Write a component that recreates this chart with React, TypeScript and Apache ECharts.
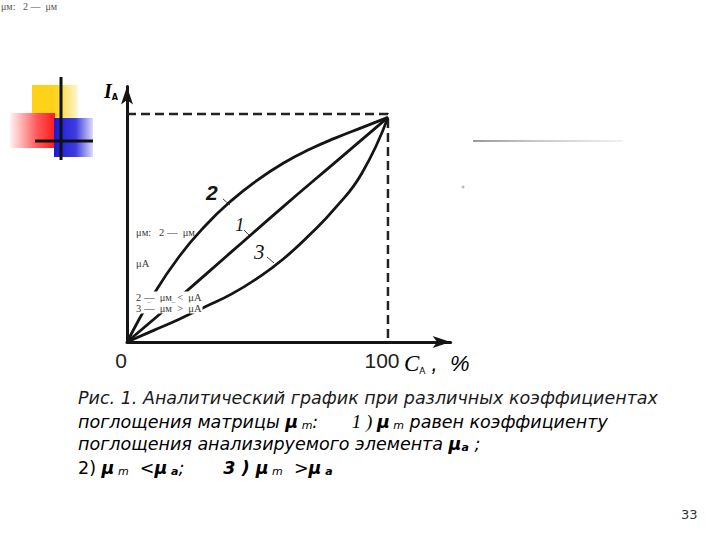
import React, { useEffect, useRef } from "react";
import * as echarts from "echarts";

// Concentration C_A (%) vs intensity I_A (relative units)
const curve1: [number, number][] = [[0, 0], [20, 19.5], [40, 39.5], [60, 59.5], [80, 79], [100, 98.5]];
const curve2: [number, number][] = [
  [0, 0], [10, 20.5], [20, 37.5], [30, 51], [40, 62], [50, 71],
  [60, 78.5], [70, 84.5], [80, 89.5], [90, 94], [100, 98.5],
];
const curve3: [number, number][] = [
  [0, 0], [10, 5], [20, 10], [30, 15.5], [40, 21], [50, 28], [60, 36.5],
  [70, 47], [80, 59], [90, 74], [100, 98.5],
];
const guide: [number, number][] = [[0, 100], [100, 100], [100, 0]];
const xTickLabels = [0, 100];

const INK = "#151515";

export default function App() {
  const ref = useRef<HTMLDivElement>(null);
  useEffect(() => {
    if (!ref.current) return;
    const chart = echarts.init(ref.current, undefined, { renderer: "svg" });
    const lineSeries = (name: string, data: [number, number][]) => ({
      name,
      type: "line",
      data,
      smooth: 0.5,
      symbol: "none",
      lineStyle: { color: INK, width: 2.8 },
      z: 2,
    });
    const CF = 17.5;
    const capBase = {
      fontFamily: "DejaVu Sans",
      fontStyle: "italic",
      fontSize: CF,
      fill: "#1a1a1a",
    };
    const capRich = {
      t: { fontFamily: "DejaVu Sans", fontStyle: "italic", fontSize: CF, color: "#1a1a1a" },
      mu: { fontFamily: "DejaVu Sans", fontStyle: "italic", fontWeight: "bold", fontSize: CF, color: "#1a1a1a" },
      sub: { fontFamily: "DejaVu Sans", fontStyle: "italic", fontSize: 11, color: "#1a1a1a", verticalAlign: "bottom" },
      subB: { fontFamily: "DejaVu Sans", fontStyle: "italic", fontWeight: "bold", fontSize: 11, color: "#1a1a1a", verticalAlign: "bottom" },
      serif: { fontFamily: "Liberation Serif", fontStyle: "italic", fontSize: 19, color: "#1a1a1a" },
      plain: { fontFamily: "DejaVu Sans", fontSize: CF, color: "#1a1a1a" },
      b3: { fontFamily: "DejaVu Sans", fontStyle: "italic", fontWeight: "bold", fontSize: CF, color: "#1a1a1a" },
    };
    const small = (text: string, x: number, y: number, bg: boolean) => ({
      type: "text",
      x,
      y,
      z: 10,
      style: {
        text,
        fontFamily: "Liberation Serif",
        fontSize: 10.5,
        fill: "#3a3a3a",
        backgroundColor: bg ? "#fff" : undefined,
        padding: bg ? [0, 1, 0, 1] : 0,
        textVerticalAlign: "middle",
      },
    });
    chart.setOption({
      animation: false,
      backgroundColor: "#fff",
      grid: { left: 127, top: 86.6, width: 323.6, height: 255.4 },
      xAxis: {
        type: "value",
        min: 0,
        max: 124,
        interval: 100,
        splitLine: { show: false },
        axisTick: { show: false },
        axisLine: {
          lineStyle: { color: INK, width: 3 },
          symbol: ["none", "arrow"],
          symbolSize: [9, 18],
        },
        axisLabel: {
          margin: 8,
          fontSize: 21,
          fontFamily: "Liberation Sans",
          color: "#222",
          padding: [0, 12, 0, 0],
          formatter: (v: number) => (xTickLabels.includes(v) ? String(v) : ""),
        },
      },
      yAxis: {
        type: "value",
        min: 0,
        max: 112,
        splitLine: { show: false },
        axisTick: { show: false },
        axisLabel: { show: false },
        axisLine: {
          lineStyle: { color: INK, width: 3 },
          symbol: ["none", "arrow"],
          symbolSize: [9, 18],
        },
      },
      series: [
        {
          name: "guide",
          type: "line",
          data: guide,
          symbol: "none",
          lineStyle: { color: "#222", width: 2.5, type: [9, 5] },
          z: 1,
        },
        lineSeries("1", curve1),
        lineSeries("2", curve2),
        lineSeries("3", curve3),
      ],
      graphic: [
        // decorative slide ornament
        {
          type: "rect",
          shape: { x: 32, y: 85, width: 46, height: 34 },
          style: {
            fill: new echarts.graphic.LinearGradient(0, 0, 1, 0, [
              { offset: 0, color: "#ffd21a" },
              { offset: 0.5, color: "#ffd21a" },
              { offset: 1, color: "#fff6d6" },
            ]),
          },
        },
        {
          type: "rect",
          shape: { x: 10, y: 113, width: 45, height: 35 },
          style: {
            fill: new echarts.graphic.LinearGradient(0, 0, 1, 0, [
              { offset: 0, color: "#fff2f2" },
              { offset: 0.6, color: "#ff5a5a" },
              { offset: 1, color: "#ff1a1a" },
            ]),
          },
        },
        {
          type: "rect",
          shape: { x: 54, y: 118, width: 39, height: 39 },
          style: {
            fill: new echarts.graphic.LinearGradient(0, 0, 1, 0, [
              { offset: 0, color: "#1a1ad6" },
              { offset: 0.55, color: "#3c3ce0" },
              { offset: 1, color: "#dcdcf8" },
            ]),
          },
        },
        { type: "line", shape: { x1: 61, y1: 77, x2: 61, y2: 160 }, style: { stroke: "#111", lineWidth: 3 } },
        { type: "line", shape: { x1: 35, y1: 141, x2: 93, y2: 141 }, style: { stroke: "#111", lineWidth: 3 } },
        // faint line to the right
        {
          type: "rect",
          shape: { x: 473, y: 140, width: 150, height: 2 },
          style: {
            fill: new echarts.graphic.LinearGradient(0, 0, 1, 0, [
              { offset: 0, color: "#9a9a9a" },
              { offset: 0.4, color: "#c6c6c6" },
              { offset: 1, color: "#f2f2f2" },
            ]),
          },
        },
        { type: "circle", shape: { cx: 463, cy: 187, r: 1.5 }, style: { fill: "#bbb" } },
        // tiny top-left text
        {
          type: "text",
          x: 1,
          y: 6,
          style: { text: "μм:   2 —  μм", fontFamily: "Liberation Serif", fontSize: 10, fill: "#555", textVerticalAlign: "middle" },
        },
        // axis names
        {
          type: "text",
          x: 104,
          y: 81,
          style: {
            text: "{i|I}{s|A}",
            rich: {
              i: { fontFamily: "Liberation Serif", fontStyle: "italic", fontWeight: "bold", fontSize: 20, color: INK },
              s: { fontFamily: "DejaVu Sans", fontWeight: "bold", fontSize: 8, color: INK, verticalAlign: "bottom" },
            },
          },
        },
        {
          type: "text",
          x: 404,
          y: 352,
          style: {
            text: "{c|C}{s|A}{t| ,  %}",
            rich: {
              c: { fontFamily: "Liberation Serif", fontStyle: "italic", fontSize: 23, color: INK },
              s: { fontFamily: "DejaVu Sans", fontSize: 9, color: INK, verticalAlign: "bottom" },
              t: { fontFamily: "Liberation Sans", fontStyle: "italic", fontSize: 22, color: INK },
            },
          },
        },
        // curve numbers with leader ticks
        {
          type: "text",
          x: 206,
          y: 182,
          style: { text: "2", fontFamily: "Liberation Sans", fontStyle: "italic", fontWeight: "bold", fontSize: 21, fill: INK },
        },
        { type: "line", shape: { x1: 223, y1: 199, x2: 230, y2: 205 }, style: { stroke: "#444", lineWidth: 1 } },
        {
          type: "text",
          x: 235,
          y: 215,
          style: { text: "1", fontFamily: "Liberation Serif", fontStyle: "italic", fontSize: 19, fill: INK },
        },
        { type: "line", shape: { x1: 244, y1: 230, x2: 250, y2: 236 }, style: { stroke: "#444", lineWidth: 1 } },
        {
          type: "text",
          x: 254,
          y: 241,
          style: { text: "3", fontFamily: "Liberation Serif", fontStyle: "italic", fontSize: 21, fill: INK },
        },
        { type: "line", shape: { x1: 267, y1: 257, x2: 274, y2: 263 }, style: { stroke: "#444", lineWidth: 1 } },
        // small in-plot notes
        small("μм:   2 —  μм", 136, 232, false),
        small("μА", 136, 263, false),
        small("2 —  μм  <  μА", 135, 297, true),
        small("3 —  μм  >  μА", 135, 308, true),
        // caption
        {
          type: "text",
          x: 78,
          y: 389,
          style: { ...capBase, text: "Рис. 1. Аналитический график при различных коэффициентах" },
        },
        {
          type: "text",
          x: 78,
          y: 412,
          style: {
            text: "{t|поглощения матрицы }{mu|μ}{sub| m}{t|:      }{serif|1 ) }{mu|μ}{sub| m}{t| равен коэффициенту}",
            rich: capRich,
          },
        },
        {
          type: "text",
          x: 78,
          y: 435,
          style: {
            text: "{t|поглощения анализируемого элемента }{mu|μ}{subB|а}{t| ;}",
            rich: capRich,
          },
        },
        {
          type: "text",
          x: 78,
          y: 459,
          style: {
            text: "{plain|2) }{mu|μ}{sub| m}{t|  <}{mu|μ}{subB| а}{t|;       }{b3|3 ) }{mu|μ}{sub| m}{t|  >}{mu|μ}{subB| а}",
            rich: capRich,
          },
        },
        {
          type: "text",
          x: 681,
          y: 508,
          style: { text: "33", fontFamily: "DejaVu Sans", fontSize: 13, fill: "#333" },
        },
      ],
    });
    return () => chart.dispose();
  }, []);
  return (
    <div
      ref={ref}
      style={{ position: "fixed", left: 0, top: 0, width: 720, height: 540, background: "#fff" }}
    />
  );
}
